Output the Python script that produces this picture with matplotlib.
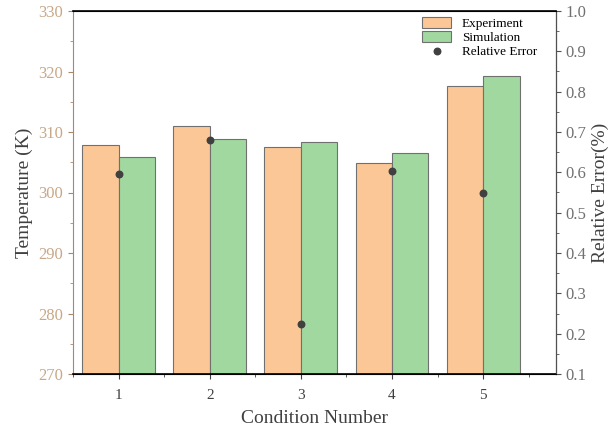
import numpy as np
import matplotlib
matplotlib.use('Agg')
import matplotlib.pyplot as plt
from matplotlib.ticker import MultipleLocator

plt.rcParams['font.family'] = ['Liberation Serif', 'DejaVu Serif']

conditions = [1, 2, 3, 4, 5]
experiment = [307.9, 311.0, 307.5, 304.8, 317.6]
simulation = [305.9, 308.8, 308.3, 306.6, 319.2]
rel_error = [0.597, 0.680, 0.224, 0.604, 0.549]

c_exp = '#FCC796'
c_sim = '#A0D8A0'
c_dot = '#404040'

fig = plt.figure(figsize=(6.15, 4.32), dpi=100)
ax = fig.add_axes([73/615, 1 - 374/432, (556-73)/615, (374-11)/432])
x = np.array(conditions)
w = 0.4
b1 = ax.bar(x - w/2, np.array(experiment) - 270, w, bottom=270, color=c_exp,
            edgecolor='#707070', linewidth=0.8, label='Experiment')
b2 = ax.bar(x + w/2, np.array(simulation) - 270, w, bottom=270, color=c_sim,
            edgecolor='#707070', linewidth=0.8, label='Simulation')
ax.set_xlim(0.5, 5.8)
ax.set_ylim(270, 330)
ax.set_xticks(conditions)
ax.xaxis.set_minor_locator(MultipleLocator(0.5))
ax.yaxis.set_minor_locator(MultipleLocator(5))
ax.yaxis.set_major_locator(MultipleLocator(10))

tan = '#A88868'
ax.spines['left'].set_color(tan)
ax.spines['top'].set_linewidth(1.2)
ax.spines['bottom'].set_linewidth(1.2)
ax.tick_params(axis='y', which='both', colors=tan, labelcolor='#C8A888', labelsize=12)
ax.tick_params(axis='x', which='both', colors='#404040', labelsize=11, pad=7)
ax.set_ylabel('Temperature (K)', fontsize=14, color='#404040')
ax.set_xlabel('Condition Number', fontsize=14, color='#404040', labelpad=6)

ax2 = ax.twinx()
sc = ax2.scatter(x, rel_error, s=22, color=c_dot, zorder=5, label='Relative Error')
ax2.set_ylim(0.1, 1.0)
ax2.yaxis.set_major_locator(MultipleLocator(0.1))
ax2.yaxis.set_minor_locator(MultipleLocator(0.05))
ax2.yaxis.set_major_formatter(plt.FuncFormatter(lambda v, p: '%.1f' % v))
ax2.spines['right'].set_color('#505050')
ax2.spines['left'].set_visible(False)
ax2.tick_params(axis='y', which='both', colors='#505050', labelcolor='#707070', labelsize=12)
ax2.set_ylabel('Relative Error(%)', fontsize=14, color='#404040')

ax2.legend([b1, b2, sc], ['Experiment', 'Simulation', 'Relative Error'],
           loc='upper right', bbox_to_anchor=(0.985, 1.015), frameon=False,
           fontsize=9.5, handlelength=2.2, handleheight=0.9, labelspacing=0.05)

fig.savefig('out.png', dpi=100)
